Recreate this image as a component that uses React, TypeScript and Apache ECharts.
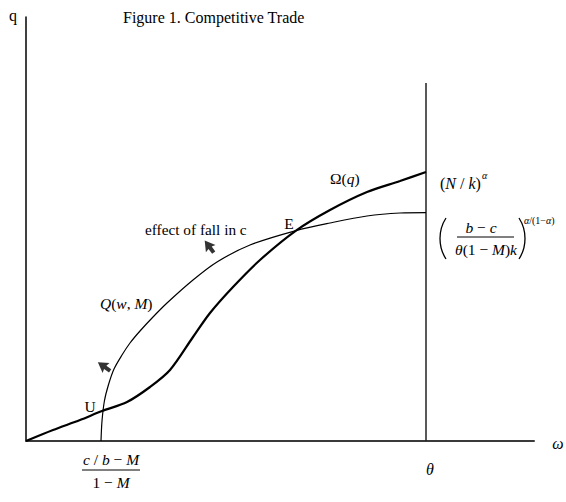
import React, { useEffect, useRef } from "react";
import * as echarts from "echarts";

// Omega(q) curve (thick) in data units
const omegaX = [0, 6.75, 13.5, 19, 25.25, 31, 36, 41.75, 46, 51.75, 58.5, 67.5, 76, 85.25, 93.5, 100];
const omegaY = [0, 2.75, 5.25, 7.5, 9.75, 13.5, 17.75, 26, 32, 38.5, 45.25, 52.6, 57.75, 62.25, 65, 67.25];
// Q(w,M) curve (thin)
const qX = [18.75, 19.0, 19.6, 20.6, 22, 24, 26, 28.5, 31.75, 35.25, 41.75, 47.75, 56, 67.5, 76, 85.25, 93.5, 100];
const qY = [0, 5, 10, 14, 18, 21.5, 24.5, 27.5, 31, 34.5, 40.25, 44.75, 49, 52.6, 54.5, 56.25, 57, 57.1];
// vertical line at theta
const thetaX = [100, 100];
const thetaY = [0, 89.5];
// arrows (center points, rotation in degrees)
const arrowX = [45.8, 19.5];
const arrowY = [48.6, 18.6];
const arrowRot = [37, 55];
const X_MAX = 127;
const Y_MAX = 106;

const FONT = "'Liberation Serif', 'Times New Roman', serif";

const zip = (xs: number[], ys: number[]) => xs.map((x, i) => [x, ys[i]]);

const rich = (size: number) => ({
  i: { fontFamily: FONT, fontSize: size, fontStyle: "italic", fill: "#000" },
  n: { fontFamily: FONT, fontSize: size, fill: "#000" },
});

function txt(x: number, y: number, text: string, size = 15, align = "left", extra: any = {}) {
  return {
    type: "text",
    x,
    y,
    silent: true,
    style: {
      text,
      fontFamily: FONT,
      fontSize: size,
      fill: "#000",
      align,
      verticalAlign: "middle",
      rich: rich(size),
      ...extra,
    },
  };
}

function hline(x1: number, x2: number, y: number) {
  return {
    type: "line",
    silent: true,
    shape: { x1, y1: y, x2, y2: y },
    style: { stroke: "#000", lineWidth: 1 },
  };
}

function paren(x: number, yTop: number, yBot: number, bulge: number) {
  const h = yBot - yTop;
  return {
    type: "bezierCurve",
    silent: true,
    shape: {
      x1: x,
      y1: yTop,
      cpx1: x + bulge,
      cpy1: yTop + h * 0.3,
      cpx2: x + bulge,
      cpy2: yTop + h * 0.7,
      x2: x,
      y2: yBot,
    },
    style: { stroke: "#000", lineWidth: 1.3, fill: null },
  };
}

export default function App() {
  const ref = useRef<HTMLDivElement>(null);
  useEffect(() => {
    if (!ref.current) return;
    const chart = echarts.init(ref.current, undefined, { renderer: "svg" });
    chart.setOption({
      animation: false,
      backgroundColor: "#fff",
      grid: { left: 26, top: 17, right: 32, bottom: 61 },
      xAxis: {
        type: "value",
        min: 0,
        max: X_MAX,
        axisLine: { show: true, onZero: false, lineStyle: { color: "#3a3a3a", width: 2 } },
        axisTick: { show: false },
        axisLabel: { show: false },
        splitLine: { show: false },
      },
      yAxis: {
        type: "value",
        min: 0,
        max: Y_MAX,
        axisLine: { show: true, onZero: false, lineStyle: { color: "#000", width: 1.5 } },
        axisTick: { show: false },
        axisLabel: { show: false },
        splitLine: { show: false },
      },
      series: [
        {
          type: "line",
          data: zip(thetaX, thetaY),
          showSymbol: false,
          lineStyle: { color: "#222", width: 1.5 },
          silent: true,
        },
        {
          type: "line",
          data: zip(qX, qY),
          smooth: 0.3,
          showSymbol: false,
          lineStyle: { color: "#000", width: 1.2 },
          silent: true,
        },
        {
          type: "line",
          data: zip(omegaX, omegaY),
          smooth: 0.3,
          showSymbol: false,
          lineStyle: { color: "#000", width: 2.2 },
          silent: true,
        },
        {
          type: "scatter",
          data: arrowX.map((x, i) => ({
            value: [x, arrowY[i]],
            symbolRotate: arrowRot[i],
          })),
          symbol: "path://M6,0 L12,10 L8,9 L8,15 L4,15 L4,9 L0,10 Z",
          symbolSize: [12, 15],
          itemStyle: { color: "#000" },
          silent: true,
        },
      ],
      graphic: [
        txt(13, 15, "q", 16, "center"),
        txt(123, 17, "Figure 1. Competitive Trade", 16, "left"),
        txt(145, 229, "effect of fall in c", 15.3, "left"),
        txt(289, 223, "E", 15.5, "center"),
        txt(90, 406, "U", 15.5, "center"),
        txt(100, 303, "{i|Q}{n|(}{i|w}{n|, }{i|M}{n|)}", 15.5, "left"),
        txt(330, 178, "{n|Ω(}{i|q}{n|)}", 15.5, "left"),
        txt(440, 183, "{n|(}{i|N}{n| / }{i|k}{n|)}", 16, "left"),
        txt(482, 175, "{i|α}", 10, "left"),
        paren(446, 218, 259, -8),
        paren(519, 218, 259, 8),
        txt(481, 227, "{i|b}{n| − }{i|c}", 15.5, "center"),
        hline(457, 514, 237),
        txt(486, 249, "{i|θ}{n|(1 − }{i|M}{n|)}{i|k}", 15.5, "center"),
        txt(524, 220, "{i|α}{n|/(1−}{i|α}{n|)}", 10, "left"),
        txt(111, 459, "{i|c}{n| / }{i|b}{n| − }{i|M}", 15.5, "center"),
        hline(82, 140, 470),
        txt(111, 482, "{n|1 − }{i|M}", 15.5, "center"),
        txt(430, 469, "{i|θ}", 16, "center"),
        txt(558, 443, "{i|ω}", 16, "center"),
      ],
    });
    return () => chart.dispose();
  }, []);
  return (
    <div
      ref={ref}
      style={{ position: "absolute", left: 0, top: 0, width: 566, height: 502, background: "#fff" }}
    />
  );
}
